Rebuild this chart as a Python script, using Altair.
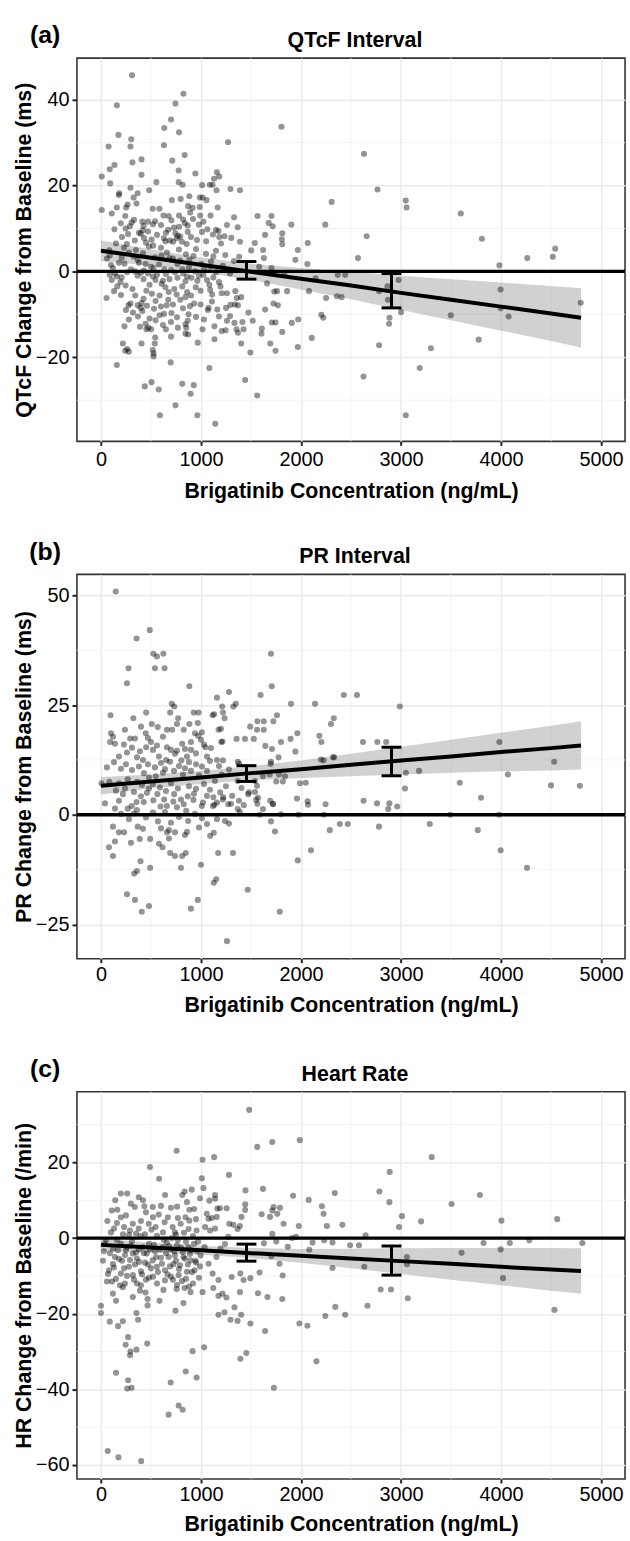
import altair as alt
import pandas as pd

FONT = "Liberation Sans"
X_TITLE = "Brigatinib Concentration (ng/mL)"
PANEL_W = 552

# concentration axis
CONC_DOMAIN = [-240, 5240]
CONC_TICKS = [0, 1000, 2000, 3000, 4000, 5000]
CONC_MINOR = [500, 1500, 2500, 3500, 4500]

# concentrations at which the fitted line and its confidence band are tabulated
BAND_CONC = [0, 500, 1000, 1500, 2000, 2500, 3000, 3500, 4000, 4500, 4800]
# concentration bins carrying the observed mean +/- SE bars
BAR_CONC = [1455, 2905]

# ---------------- QTcF ----------------
qtcf_points = [
    (311, 45.7), (825, 41.4), (745, 39.1), (159, 38.7), (701, 35.4), (633, 33.4), (781, 32.4), (1805, 33.7),
    (175, 31.8), (303, 30.8), (76, 29.1), (295, 29.1), (629, 29.4), (1271, 30.1), (837, 27.1), (2630, 27.4),
    (406, 26.1), (713, 25.8), (315, 25.4), (135, 24.8), (88, 23.8), (777, 23.5), (1159, 23.1), (1183, 22.1),
    (944, 22.8), (406, 22.5), (8, 22.1), (1131, 21.6), (554, 20.8), (777, 20.8), (92, 20.5), (817, 20.2),
    (1012, 20.1), (1088, 20.2), (1116, 20.2), (295, 19.5), (1295, 19.2), (1390, 18.9), (2765, 19.1), (482, 18.9),
    (183, 18.2), (1155, 18.9), (367, 18.2), (179, 17.8), (327, 17.2), (884, 17.5), (988, 17.2), (797, 16.9),
    (1016, 17.2), (709, 16.6), (1056, 16.6), (3048, 16.5), (3056, 14.9), (2307, 16.2), (267, 15.6), (355, 15.8),
    (251, 14.9), (159, 14.9), (872, 15.2), (988, 15.0), (1167, 14.9), (518, 14.6), (585, 14.6), (8, 14.3),
    (916, 14.8), (108, 13.5), (892, 13.7), (3598, 13.5), (243, 12.9), (625, 13.0), (677, 12.9), (781, 13.0),
    (992, 13.0), (1096, 13.0), (1331, 12.6), (1566, 12.9), (1705, 12.9), (414, 11.6), (470, 11.6), (542, 11.7),
    (199, 11.2), (307, 11.4), (705, 11.9), (821, 12.1), (920, 12.2), (1024, 11.6), (1677, 11.3), (1717, 10.5),
    (1904, 10.9), (2243, 10.9), (426, 10.6), (781, 10.4), (868, 10.7), (980, 10.9), (1367, 10.3), (135, 9.8),
    (247, 10.0), (418, 9.6), (673, 9.7), (1064, 9.8), (1151, 9.7), (1175, 9.4), (271, 8.7), (398, 8.8),
    (745, 8.9), (868, 9.2), (1641, 8.5), (1813, 8.9), (2657, 8.2), (339, 7.2), (506, 7.4), (629, 7.7),
    (757, 7.7), (793, 8.1), (1052, 7.0), (1183, 8.0), (1235, 8.2), (1303, 7.8), (1390, 6.9), (1809, 7.5),
    (3809, 7.6), (259, 6.4), (450, 6.7), (522, 6.0), (645, 7.0), (721, 6.9), (857, 6.4), (1538, 6.6),
    (1813, 6.3), (2068, 6.6), (84, 4.9), (1502, 4.9), (1621, 5.0), (1968, 5.0), (4542, 5.3),
    (2570, 3.1), (4263, 3.1), (4518, 3.4), (3984, 1.4), (1944, 2.7), (2064, 1.7), (1629, 3.1), (1705, 0.8),
    (1582, 1.1), (1382, 3.4), (1219, 1.3), (1092, 1.1), (1004, 1.7), (813, 0.5), (633, 0.5), (526, 0.8),
    (120, 0.8), (235, 1.8), (367, 2.7), (446, 1.7), (685, 3.1), (765, 1.7), (884, 2.7), (88, 3.7),
    (207, 3.2), (327, 3.5), (606, 3.7), (924, 3.6), (1124, 3.5), (1243, 3.8), (230, 5.5), (280, 4.4),
    (350, 5.0), (420, 4.2), (480, 5.8), (540, 3.3), (600, 5.5), (660, 4.4), (720, 3.0), (780, 5.1),
    (850, 4.0), (950, 5.2), (1050, 4.1), (1100, 2.3), (180, 2.0), (60, 3.0), (400, -0.3), (500, 1.1),
    (560, -0.8), (620, -2.2), (700, 0.3), (820, -0.5), (880, 0.9), (1180, -2.5), (1290, -0.5), (1330, 2.4),
    (1150, 4.8), (980, -1.0),
    (150, 6.5), (210, 8.0), (290, 10.5), (330, 12.0), (380, 9.0), (430, 7.8), (470, 9.3), (520, 11.0),
    (560, 8.5), (600, 10.8), (650, 9.0), (690, 7.2), (730, 10.2), (770, 8.3), (810, 6.9), (840, 11.2),
    (900, 8.0), (960, 7.3), (1010, 9.2), (1120, 8.6), (1200, 6.5), (1260, 10.8), (100, 1.5), (140, -0.5),
    (260, -0.2), (300, 0.5), (340, 0.0), (380, 2.0), (430, 0.2), (470, -0.5), (520, -1.2), (580, 1.6),
    (650, -0.6), (740, -0.2), (790, 2.5), (860, -1.2), (940, 0.0), (1030, 0.5), (1150, -0.2), (1060, -2.0),
    (2976, -2.0), (2080, -4.6), (2359, -5.8), (2406, -6.0), (2251, -6.2), (2367, -0.8), (2442, -0.8), (2147, -1.6),
    (1833, -0.6), (1861, -4.6), (1733, -4.7), (1661, -2.8), (2781, -4.6), (2865, -3.5), (2869, -6.6), (3000, -9.5),
    (2885, -10.8), (2881, -12.2), (3996, -4.2), (3996, -8.6), (4076, -10.5), (3498, -10.2), (3777, -15.9), (4797, -7.3),
    (3299, -17.9), (2781, -17.2), (3187, -22.5), (2625, -24.5), (3048, -33.5), (2223, -10.8), (2203, -10.1), (2108, -15.5),
    (1968, -17.6), (1972, -11.2), (1908, -12.0), (1813, -14.1), (1745, -11.9), (1709, -11.9), (1745, -18.5), (1693, -16.8),
    (1605, -14.5), (1609, -13.3), (1641, -8.9), (1769, -7.9), (1725, -7.5), (1761, -4.6), (1562, -28.9), (1442, -25.3),
    (1494, -18.9), (1402, -16.8), (1474, -9.6), (1414, -11.8), (1518, -11.5), (1335, -12.0), (1291, -10.4), (1207, -13.9),
    (1135, -15.8), (1135, -12.8), (1084, -22.5), (1143, -35.5), (964, -33.5), (928, -26.5), (896, -28.5), (813, -26.2),
    (745, -31.2), (697, -21.2), (590, -33.5), (578, -27.5), (506, -25.8), (438, -26.8), (159, -21.8), (56, -6.2),
    (219, -16.8), (243, -18.5), (263, -18.1), (279, -18.7), (235, -12.8), (279, -11.2), (406, -16.8), (526, -19.1),
    (526, -19.8), (518, -18.3), (538, -16.8), (542, -15.4), (502, -13.5), (474, -13.1), (454, -13.5), (649, -13.5),
    (701, -15.2), (769, -13.1), (853, -13.1), (845, -12.3), (868, -11.5), (845, -14.5), (872, -14.7), (968, -16.6),
    (1016, -13.5), (1247, -13.7), (1355, -13.5), (1370, -14.3), (1426, -13.5), (657, -7.9), (705, -9.7), (876, -10.0),
    (932, -7.5), (996, -7.7), (1068, -9.0), (1076, -8.5), (1163, -8.9), (1251, -8.5), (1295, -7.8), (1339, -7.7),
    (1359, -6.2), (1402, -6.0), (1370, -7.9), (1343, -4.6), (1259, -5.1), (1195, -3.5), (1092, -4.3), (1084, -3.1),
    (1124, -1.4), (1024, -0.8), (996, -4.5), (948, -3.7), (900, -5.6), (861, -4.8), (813, -3.5), (845, -6.0),
    (793, -6.6), (757, -5.4), (733, -4.1), (673, -6.6), (677, -4.8), (645, -3.7), (606, -2.9), (586, -5.6),
    (546, -6.9), (510, -5.2), (486, -3.1), (454, -4.5), (426, -6.4), (406, -7.4), (398, -8.5), (414, -9.2),
    (367, -7.9), (343, -5.6), (315, -4.1), (295, -7.5), (275, -7.9), (247, -3.3), (195, -2.5), (163, -3.5),
    (207, -1.4), (159, -1.2), (108, -2.0), (88, -0.8), (131, -4.6), (367, -1.0), (426, -1.8), (546, -2.0),
    (685, -1.8), (765, -1.5), (845, -2.3), (904, -1.5), (964, -2.2), (1207, -5.1), (1112, -5.4), (486, -11.0),
    (546, -11.4), (446, -12.2), (586, -10.2),
    (200, -5.5), (250, -9.0), (320, -9.6), (370, -10.5), (460, -8.0), (530, -8.7), (600, -8.2), (630, -9.9),
    (720, -7.7), (760, -10.7), (820, -8.6), (890, -8.1), (950, -10.6), (1030, -11.2), (1110, -7.0), (1180, -10.5),
    (1260, -11.5), (700, -11.8), (620, -12.5), (390, -12.9),
]
qtcf_fit = [4.8, 3.2, 1.55, -0.1, -1.7, -3.3, -5.0, -6.6, -8.2, -9.8, -10.8]
qtcf_lower = [2.4, 1.3, -0.15, -2.0, -4.2, -6.5, -9.0, -11.4, -13.8, -16.2, -17.7]
qtcf_upper = [7.2, 5.1, 3.25, 1.8, 0.8, -0.1, -1.0, -1.8, -2.6, -3.4, -3.9]
qtcf_bar_low = [-1.8, -8.5]
qtcf_bar_high = [2.3, -0.5]

# ---------------- PR ----------------
pr_points = [
    (148, 50.9), (488, 42.1), (356, 40.2), (524, 36.7), (560, 36.1), (624, 36.7), (1700, 36.7), (276, 33.4),
    (540, 33.4), (636, 33.4), (260, 30.0), (884, 29.3), (1708, 29.3), (1160, 26.7), (1280, 28.0), (1596, 27.3),
    (2428, 27.3), (2560, 27.3), (708, 25.3), (732, 24.7), (1212, 24.7), (1348, 25.3), (1324, 24.7), (1900, 25.3),
    (2140, 25.3), (2988, 24.7), (96, 22.7), (324, 22.0), (452, 23.3), (692, 23.3), (928, 23.3), (976, 23.3),
    (1116, 22.7), (1220, 23.3), (1236, 22.0), (1760, 22.7), (2328, 22.0), (1492, 20.1), (1564, 21.3), (1628, 21.3),
    (1724, 21.3), (1560, 19.4), (1628, 19.4), (2300, 20.7), (1176, 19.4), (772, 22.0),
    (100, 18.6), (120, 17.8), (140, 16.2), (92, 16.6), (240, 19.4), (292, 17.4), (340, 17.4), (400, 20.1),
    (448, 18.6), (508, 20.7), (568, 20.0), (660, 19.4), (712, 19.4), (760, 20.7), (828, 19.4), (884, 20.7),
    (968, 20.9), (940, 18.6), (972, 18.0), (1000, 17.1), (1044, 15.4), (1100, 15.2), (1204, 16.6), (1356, 17.3),
    (1440, 17.3), (1528, 17.3), (1800, 16.6), (1896, 17.3), (1964, 18.6), (2184, 18.0), (2204, 16.6), (2620, 16.6),
    (2764, 16.6), (2852, 16.6), (3984, 16.6), (500, 16.6), (452, 15.4), (660, 15.4), (812, 16.2), (900, 16.6),
    (900, 14.8), (700, 14.8), (4532, 12.1),
    (180, 13.3), (260, 14.2), (360, 13.1), (420, 12.5), (520, 14.8), (580, 13.3), (652, 12.5), (740, 13.9),
    (804, 12.4), (860, 13.3), (1060, 13.3), (1160, 12.5), (1220, 12.4), (1368, 12.1), (1700, 12.1), (2200, 12.6),
    (2320, 13.1),
    (1131, 22.9), (1200, 19.6), (1214, 16.7), (1009, 18.8), (1644, 15.7), (1710, 15.0), (1697, 11.6), (1753, 7.6),
    (1819, 7.6), (1687, 9.2), (1405, 6.1), (1382, 11.6), (1776, 13.1), (1944, 14.4), (1990, 7.2), (2226, 12.4),
    (2332, 13.1), (3049, 9.6), (3181, 10.0), (3040, 6.0), (1570, 3.9), (1719, 2.5), (1564, 2.5), (1389, 0.6),
    (1223, 4.0), (1124, 4.0), (1134, 2.3), (1300, 2.5),
    (4068, 9.2), (3588, 7.3), (3800, 3.9), (4500, 6.7), (4788, 6.6), (2048, 7.3), (1960, 3.7), (2066, 3.1),
    (2070, 2.3), (2246, 2.4), (2626, 3.2), (2760, 2.6), (2884, 2.6), (2872, 1.3), (2962, 1.9),
    (1976, 0.0), (2228, 0.0), (3492, 0.0), (3980, 0.0), (1700, -1.5), (1740, -3.8), (1588, 0.0), (1800, 0.1),
    (2388, -2.1), (2468, -2.1), (2780, -2.7), (2288, -3.5), (3288, -2.1), (3768, -3.5), (2100, -8.1), (1968, -10.4),
    (3996, -8.1), (4260, -12.1), (1320, -8.7), (1172, -8.7), (1000, -11.4), (1152, -14.7), (1128, -15.5), (1468, -17.1),
    (968, -19.4), (900, -21.4), (1788, -22.1), (1260, -28.8), (492, -12.1), (396, -10.6), (332, -13.4), (360, -12.8),
    (260, -18.1), (340, -19.4), (480, -20.8), (408, -22.1), (800, -12.1), (80, -7.4), (120, -9.4), (140, -6.1),
    (300, -6.4), (388, -5.5), (492, -5.5), (580, -6.6), (616, -7.4), (692, -8.7), (740, -9.4), (812, -9.4),
    (848, -8.7), (680, -5.4), (740, -4.0), (660, -4.0), (840, -4.6), (860, -3.9), (180, -4.0), (232, -4.0),
    (120, -2.7), (368, -2.7), (420, -3.2), (600, -3.1), (680, -3.5), (872, -1.4), (980, -2.9), (1060, -2.1),
    (1160, -1.0), (1092, -4.8), (1128, -4.1), (1240, -1.4), (1280, -2.0),
    (40, 2.6), (140, 1.4), (180, 3.2), (220, 4.7), (268, 1.4), (308, 2.0), (356, 2.9), (360, 1.1),
    (400, 4.2), (428, 2.9), (480, 6.0), (524, 3.3), (564, 4.7), (596, 1.9), (632, 3.5), (660, 2.0),
    (724, 3.0), (732, 4.7), (760, 1.7), (800, 3.5), (828, 2.4), (852, 0.9), (868, 4.2), (924, 3.4),
    (930, 4.8), (1008, 2.0), (1020, 2.8), (1060, 4.3), (1120, 2.0), (1160, 2.8), (1192, 5.1), (1220, 3.5),
    (1272, 2.4), (1312, 4.3), (1368, 1.3), (1380, 3.2), (1428, 2.2), (1472, 4.7), (1552, 3.4), (1540, 5.2),
    (1692, 3.2), (1720, 2.4), (1620, 1.3),
    (5, 7.2), (84, 7.5), (180, 7.2), (268, 8.1), (360, 7.5), (480, 8.5), (548, 8.8), (620, 9.6),
    (820, 9.2), (900, 10.0), (980, 9.0), (1060, 10.0), (1140, 7.7), (1208, 9.2), (1280, 10.3), (1368, 7.7),
    (1540, 7.7), (1620, 8.8), (1780, 9.2), (1840, 8.8), (1480, 5.1), (1560, 6.6),
    (60, 10.8), (130, 12.0), (200, 10.5), (250, 11.5), (310, 10.2), (380, 11.0), (430, 9.5), (470, 11.5),
    (540, 10.8), (600, 11.8), (640, 10.4), (690, 12.1), (730, 10.0), (780, 11.1), (840, 10.6), (880, 12.0),
    (950, 11.5), (1010, 11.0), (1090, 12.3), (1180, 11.1), (230, 16.0), (310, 15.3), (390, 14.5), (470, 17.5),
    (560, 15.8), (620, 17.8), (760, 14.6), (840, 15.0), (950, 14.0), (1030, 16.0), (150, 5.5), (240, 6.0),
    (330, 5.2), (410, 6.8), (460, 5.0), (520, 7.0), (590, 6.2), (650, 5.4), (700, 7.2), (770, 6.0),
    (880, 6.5), (950, 5.9), (1030, 7.0), (1090, 5.7), (1250, 6.5), (200, 0.2), (280, -1.0), (330, 0.3),
    (450, -0.6), (520, 0.5), (570, -1.5), (640, 0.6), (700, -1.8), (780, -0.5), (940, 0.2), (1010, -0.8),
]
pr_fit = [6.6, 7.6, 8.5, 9.5, 10.4, 11.4, 12.4, 13.3, 14.3, 15.2, 15.8]
pr_lower = [4.6, 6.0, 7.1, 7.9, 8.4, 8.8, 9.2, 9.6, 9.9, 10.1, 10.3]
pr_upper = [8.6, 9.2, 10.0, 11.1, 12.4, 13.9, 15.5, 17.1, 18.7, 20.3, 21.3]
pr_bar_low = [7.6, 8.9]
pr_bar_high = [11.2, 15.4]

# ---------------- Heart rate ----------------
hr_points = [
    (1482, 33.9), (1988, 25.9), (1713, 25.4), (1562, 24.1), (757, 23.1), (1131, 21.4), (3307, 21.4), (1016, 20.7),
    (490, 18.8), (582, 15.7), (908, 12.8), (837, 12.3), (199, 11.8), (263, 11.8), (641, 11.4), (813, 11.4),
    (3789, 11.4), (3506, 9.0), (143, 10.0), (299, 9.1), (378, 10.8), (434, 8.4), (761, 8.3), (884, 7.5),
    (932, 7.7), (108, 7.3), (163, 7.5), (199, 5.5), (339, 8.2), (450, 6.8), (518, 8.2), (578, 6.2),
    (669, 5.5), (769, 5.3), (845, 5.5), (884, 4.6), (4004, 4.6), (4562, 5.0), (64, 4.5), (131, 2.5),
    (231, 2.9), (319, 3.8), (378, 2.5), (478, 3.8), (546, 2.9), (637, 4.2), (717, 2.9), (797, 3.8),
    (876, 2.4), (956, 2.0), (280, 0.8), (350, 1.2), (440, 1.0), (560, 0.6), (620, 1.5), (750, 0.9),
    (830, 1.4), (920, 0.5),
    (40, -1.5), (120, -2.8), (199, -1.5), (259, -2.4), (319, -4.1), (139, -5.0), (80, -8.5), (120, -6.9),
    (199, -9.4), (279, -7.6), (359, -5.4), (418, -2.4), (458, -4.1), (518, -5.9), (558, -7.6), (618, -2.4),
    (677, -5.0), (725, -6.9), (777, -9.8), (817, -3.7), (876, -2.4), (896, -5.9), (936, -8.5),
    (30, -3.5), (90, -4.0), (170, -3.2), (210, -6.0), (240, -4.5), (300, -2.0), (340, -7.0), (380, -3.0),
    (400, -8.8), (440, -6.5), (480, -1.5), (500, -8.0), (540, -3.5), (600, -5.2), (640, -8.5), (660, -1.2),
    (700, -3.0), (740, -4.6), (760, -1.9), (790, -7.2), (840, -5.5), (860, -8.9), (900, -3.2), (950, -6.5),
    (970, -1.0), (60, -11.5), (150, -10.8), (240, -12.0), (330, -11.0), (400, -12.5), (480, -10.5), (560, -12.0),
    (640, -11.2), (700, -10.2), (760, -12.4), (850, -10.8), (920, -12.0),
    (20, -6.0), (50, -0.5), (70, -9.5), (100, 1.5), (110, -11.5), (130, -7.8), (160, -0.5), (180, -5.5),
    (190, -12.5), (220, 1.0), (230, -8.0), (250, -3.2), (260, -10.0), (290, -5.8), (310, -0.8), (320, -9.8),
    (350, -3.8), (360, -12.0), (380, -6.3), (395, 0.5), (410, -9.6), (430, -4.0), (450, -11.0), (470, -7.0),
    (490, -3.0), (505, 2.2), (520, -10.2), (530, -1.8), (550, -5.0), (570, -9.0), (590, -3.0), (610, -6.8),
    (630, -0.5), (650, -4.0), (665, -9.6), (680, -2.2), (690, -7.5), (710, 0.0), (720, -11.0), (735, -3.5),
    (750, -6.0), (770, -0.5), (780, -8.2), (800, -2.5), (810, -11.4), (825, -5.0), (850, -1.0), (870, -7.0),
    (880, -12.8), (890, -4.2), (910, -9.0), (930, -1.5), (945, -6.0), (960, -3.5), (980, -10.5), (990, -7.5),
    (160, 4.0), (250, 6.0), (290, 2.0), (400, 4.5), (420, 10.0), (520, 5.5), (600, 8.5), (700, 8.0),
    (740, 1.5), (860, 9.5), (950, 5.0), (990, 10.5),
    (1116, -9.4), (1175, -11.1), (1307, -10.3), (1394, -9.4), (1426, -11.1), (1494, -10.6), (1586, -9.1), (1817, -9.9),
    (2315, -7.9), (2633, -7.6), (4020, -10.6), (3606, -3.9), (3825, -1.3), (4088, -1.3), (4283, -0.6), (3996, -3.0),
    (4813, -1.3), (1076, -6.8), (1155, -5.0), (1195, -2.8), (996, -4.6), (1036, -2.4), (3060, -6.9),
    (1280, 16.7), (1445, 12.6), (1620, 13.0), (1921, 11.2), (2077, 10.1), (2338, 11.9), (2784, 12.3), (2887, 17.5),
    (2884, 9.5), (3010, 5.8), (3201, 4.4), (2980, 2.9), (2646, 0.7), (2414, 3.5), (2259, 3.2), (2209, 8.4),
    (2226, 6.4), (1978, 3.2), (1826, 3.8), (1726, 8.2), (1790, 8.0), (1763, 6.4), (1713, 7.3), (1690, 5.6),
    (1607, 6.3), (1442, 8.9), (1442, 7.4), (1405, 5.6), (1389, 3.2), (1366, 2.4), (1323, 3.5), (1283, 3.8),
    (1257, 7.9), (1190, 7.9), (1141, 11.4), (1141, 10.4), (1084, 9.9), (1009, 15.8), (1025, 13.2), (1058, 6.4),
    (1075, 5.1), (1108, 5.3), (1158, 5.6), (1164, 7.8), (1042, 2.9), (1091, 2.0), (1141, 2.5), (1273, 0.3),
    (1240, -1.6), (1630, -1.4), (1713, 1.1), (1753, -0.9), (1911, 0.0), (1951, 0.3), (1868, -2.3), (2116, -1.2),
    (2232, -0.6), (2315, -1.2), (2491, -1.9), (2580, -1.9), (2083, -3.1), (1703, -4.8), (1786, -6.8), (3059, -5.0),
    (4534, -19.0), (3068, -15.9), (2900, -13.6), (2797, -13.6), (2665, -17.9), (2442, -20.3), (2343, -18.2), (2243, -20.6),
    (2064, -23.2), (1984, -22.6), (2155, -32.6), (1729, -39.6), (1641, -24.6), (1665, -15.6), (1813, -16.1), (1570, -14.6),
    (1494, -22.6), (1454, -30.4), (1394, -31.9), (1402, -20.3), (1366, -21.9), (1295, -21.6), (1335, -18.3), (1235, -19.6),
    (1175, -20.3), (1255, -15.7), (1175, -15.3), (1215, -14.7), (1123, -13.2), (1016, -14.3), (1032, -28.9), (916, -29.9),
    (956, -36.9), (848, -35.3), (825, -17.2), (896, -14.3), (777, -44.3), (817, -45.4), (677, -46.7), (697, -38.2),
    (745, -19.2), (586, -16.6), (625, -13.7), (466, -16.1), (466, -17.8), (446, -14.4), (462, -27.9), (371, -21.6),
    (355, -19.8), (319, -15.6), (271, -26.2), (247, -28.2), (355, -29.5), (295, -30.0), (291, -31.0), (151, -16.6),
    (120, -14.7), (0, -17.9), (0, -19.8), (88, -22.1), (219, -22.0), (171, -23.3), (151, -35.6), (271, -37.6),
    (263, -39.8), (307, -39.6), (402, -59.0), (175, -58.0), (68, -56.3), (390, -13.9), (219, -13.0), (757, -13.5),
    (837, -13.2), (1390, -14.3),
]
hr_fit = [-1.8, -2.5, -3.2, -4.0, -4.7, -5.4, -6.1, -6.8, -7.6, -8.3, -8.7]
hr_lower = [-3.4, -3.8, -4.4, -5.3, -6.5, -8.0, -9.5, -11.0, -12.5, -13.9, -14.7]
hr_upper = [-0.2, -1.2, -2.0, -2.6, -2.9, -2.8, -2.7, -2.6, -2.6, -2.6, -2.7]
hr_bar_low = [-6.1, -9.8]
hr_bar_high = [-1.6, -2.1]

GRID_MINOR = "#f1f1f1"


def make_panel(letter, title, y_title, points, fit, lower, upper, bar_low, bar_high,
               y_domain, y_ticks, y_minor, height, x_label_pad, x_title_y):
    xs = alt.Scale(domain=CONC_DOMAIN, nice=False, zero=False)
    ys = alt.Scale(domain=y_domain, nice=False, zero=False)
    x_axis = alt.Axis(values=CONC_TICKS, format="d", title=X_TITLE, tickSize=4,
                      labelPadding=x_label_pad, titleX=PANEL_W / 2, titleY=x_title_y,
                      titleBaseline="alphabetic", titleAlign="center")
    y_axis = alt.Axis(values=y_ticks, format="d", title=y_title, tickSize=5, labelPadding=3,
                      titleAngle=270, titleX=-42, titleY=height / 2, titleBaseline="bottom",
                      titleAlign="center")

    def X(field):
        return alt.X(field, type="quantitative", scale=xs, axis=x_axis)

    def Y(field):
        return alt.Y(field, type="quantitative", scale=ys, axis=y_axis)

    pts = pd.DataFrame(points, columns=["conc", "change"])
    band = pd.DataFrame({"conc": BAND_CONC, "fit": fit, "lower": lower, "upper": upper})
    bars = pd.DataFrame({"conc": BAR_CONC, "low": bar_low, "high": bar_high})

    minor_x = alt.Chart(pd.DataFrame({"conc": CONC_MINOR})).mark_rule(
        color=GRID_MINOR, strokeWidth=0.9).encode(x=X("conc"))
    minor_y = alt.Chart(pd.DataFrame({"change": y_minor})).mark_rule(
        color=GRID_MINOR, strokeWidth=0.9).encode(y=Y("change"))
    ci = alt.Chart(band).mark_area(color="#999999", opacity=0.45).encode(
        x=X("conc"), y=Y("lower"), y2="upper")
    dots = alt.Chart(pts).mark_circle(size=38, color="black", opacity=0.42).encode(
        x=X("conc"), y=Y("change"))
    zero = alt.Chart(pd.DataFrame({"change": [0]})).mark_rule(
        color="black", strokeWidth=3.4).encode(y=Y("change"))
    line = alt.Chart(band).mark_line(color="black", strokeWidth=4).encode(
        x=X("conc"), y=Y("fit"))
    stem = alt.Chart(bars).mark_rule(color="black", strokeWidth=3).encode(
        x=X("conc"), y=Y("low"), y2="high")
    cap_lo = alt.Chart(bars).mark_tick(color="black", orient="horizontal", size=20,
                                       thickness=3, opacity=1).encode(x=X("conc"), y=Y("low"))
    cap_hi = alt.Chart(bars).mark_tick(color="black", orient="horizontal", size=20,
                                       thickness=3, opacity=1).encode(x=X("conc"), y=Y("high"))
    tag = alt.Chart(pd.DataFrame({"label": [letter]})).mark_text(
        font=FONT, fontSize=25, fontWeight="bold", align="center", baseline="alphabetic",
        color="black").encode(text="label:N", x=alt.value(-32), y=alt.value(-15))
    head = alt.Chart(pd.DataFrame({"label": [title]})).mark_text(
        font=FONT, fontSize=21.5, fontWeight="bold", align="center", baseline="alphabetic",
        color="black").encode(text="label:N", x=alt.value(280), y=alt.value(-11))

    return alt.layer(minor_x, minor_y, ci, dots, zero, line, stem, cap_lo, cap_hi, tag, head).properties(
        width=PANEL_W, height=height)


panel_a = make_panel("(a)", "QTcF Interval", "QTcF Change from Baseline (ms)",
                     qtcf_points, qtcf_fit, qtcf_lower, qtcf_upper, qtcf_bar_low, qtcf_bar_high,
                     [-39.6, 49.7], [-20, 0, 20, 40], [-30, -10, 10, 30], 386, 4, 57)
panel_b = make_panel("(b)", "PR Interval", "PR Change from Baseline (ms)",
                     pr_points, pr_fit, pr_lower, pr_upper, pr_bar_low, pr_bar_high,
                     [-32.8, 54.8], [-25, 0, 25, 50], [-12.5, 12.5, 37.5], 387, 2, 53)
panel_c = make_panel("(c)", "Heart Rate", "HR Change from Baseline (/min)",
                     hr_points, hr_fit, hr_lower, hr_upper, hr_bar_low, hr_bar_high,
                     [-63.7, 38.7], [-60, -40, -20, 0, 20], [-50, -30, -10, 10, 30], 390, 2, 52)

chart = alt.vconcat(panel_a, panel_b, panel_c, spacing=134, bounds="flush").properties(
    padding={"left": 12.5, "top": 17, "right": 2, "bottom": 4}
).configure_view(
    stroke="#333333", strokeWidth=1.6
).configure_axis(
    labelFont=FONT, labelFontSize=20, labelColor="black",
    titleFont=FONT, titleFontSize=21.5, titleFontWeight="bold", titleColor="black",
    tickColor="#222222", tickWidth=2, domain=False,
    grid=True, gridColor="#ebebeb", gridWidth=1.5,
    labelFlush=False, labelOverlap=False,
)

chart.save("out.html", embed_options={"renderer": "svg", "actions": False})
